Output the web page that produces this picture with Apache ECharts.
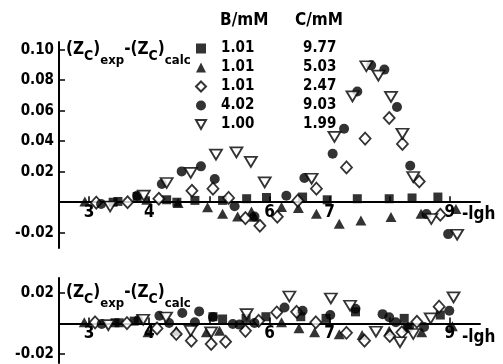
<!DOCTYPE html>
<html>
<head>
<meta charset="utf-8">
<script src="https://cdn.jsdelivr.net/npm/echarts@6/dist/echarts.min.js"></script>
<style>
  html, body { margin: 0; padding: 0; background: #fff; }
  #chart { width: 503px; height: 364px; }
</style>
</head>
<body>
<div id="chart"></div>
<script>
// upper panel: deviations (Zc)exp - (Zc)calc against -lgh
var topSquare = [[3.40,0.0000],[3.48,0.0005],[3.80,0.0038],[4.29,0.0016],[4.46,0.0000],[4.76,0.0012],[5.22,0.0012],[5.62,0.0023],[5.95,0.0031],[6.55,0.0034],[6.96,0.0016],[7.46,0.0023],[7.99,0.0023],[8.37,0.0028],[8.80,0.0034]];
var topTriangle = [[2.93,0.0005],[3.96,0.0016],[4.48,-0.0005],[4.97,-0.0033],[5.22,-0.0075],[5.47,-0.0093],[5.70,-0.0060],[5.75,-0.0095],[6.20,-0.0031],[6.48,-0.0038],[6.78,-0.0075],[7.16,-0.0141],[7.52,-0.0119],[8.02,-0.0097],[8.52,-0.0075],[9.10,-0.0045]];
var topDiamond = [[3.12,-0.0003],[3.64,0.0000],[4.16,0.0023],[4.71,0.0075],[5.06,0.0089],[5.32,0.0028],[5.60,-0.0104],[5.84,-0.0154],[6.13,-0.0095],[6.47,0.0010],[6.78,0.0089],[7.28,0.0228],[7.59,0.0417],[7.99,0.0552],[8.21,0.0382],[8.49,0.0136],[8.84,-0.0082]];
var topCircle = [[3.20,-0.0012],[3.80,0.0043],[4.21,0.0119],[4.54,0.0202],[4.86,0.0235],[5.09,0.0152],[5.42,-0.0026],[5.75,-0.0093],[6.28,0.0043],[6.58,0.0159],[7.05,0.0318],[7.24,0.0482],[7.46,0.0726],[7.69,0.0897],[7.91,0.0869],[8.12,0.0624],[8.34,0.0239],[8.61,-0.0077],[8.97,-0.0209]];
var topTriDown = [[3.35,-0.0028],[3.91,0.0043],[4.29,0.0126],[4.69,0.0192],[5.11,0.0312],[5.45,0.0327],[5.69,0.0264],[5.92,0.0130],[6.70,0.0154],[7.08,0.0428],[7.38,0.0694],[7.61,0.0891],[7.81,0.0830],[8.02,0.0690],[8.21,0.0449],[8.39,0.0165],[8.69,-0.0110],[9.12,-0.0213]];

// lower panel: deviations after refinement
var bottomSquare = [[3.43,0.0005],[3.50,0.0005],[3.75,0.0016],[5.06,0.0045],[5.22,0.0030],[5.61,0.0034],[5.94,0.0045],[6.52,0.0045],[6.94,0.0034],[7.43,0.0077],[8.24,0.0034],[8.29,-0.0031],[8.84,0.0056]];
var bottomTriangle = [[2.92,0.0008],[3.98,-0.0058],[4.45,-0.0047],[4.95,-0.0058],[5.17,-0.0047],[6.20,0.0008],[6.49,-0.0031],[6.75,-0.0058],[7.16,-0.0070],[7.54,-0.0075],[7.99,-0.0047],[8.53,-0.0058],[9.04,-0.0018]];
var bottomDiamond = [[3.10,0.0008],[3.63,0.0003],[4.13,-0.0032],[4.45,-0.0069],[4.70,-0.0113],[5.03,-0.0135],[5.27,-0.0120],[5.60,-0.0048],[5.82,0.0018],[6.12,0.0073],[6.45,0.0077],[6.77,0.0008],[7.28,-0.0061],[7.58,-0.0113],[8.00,-0.0082],[8.20,-0.0058],[8.45,0.0012],[8.82,0.0111]];
var bottomCircle = [[3.21,-0.0003],[3.82,0.0023],[4.17,0.0051],[4.33,0.0003],[4.55,0.0069],[4.76,0.0008],[4.83,0.0080],[5.06,0.0043],[5.39,-0.0003],[5.50,-0.0007],[5.75,0.0003],[6.25,0.0106],[6.55,0.0084],[7.01,0.0056],[7.43,0.0097],[7.88,0.0062],[7.99,0.0041],[8.10,0.0008],[8.32,-0.0025],[8.57,-0.0023],[8.99,0.0084]];
var bottomTriDown = [[3.32,-0.0010],[3.90,0.0025],[4.28,0.0040],[4.69,-0.0048],[5.03,-0.0058],[5.62,0.0062],[6.33,0.0178],[7.02,0.0165],[7.34,0.0117],[7.77,-0.0054],[8.17,-0.0123],[8.39,-0.0069],[8.68,0.0034],[9.06,0.0172]];

// legend columns
var concB = ['1.01', '1.01', '1.01', '4.02', '1.00'];
var concC = ['9.77', '5.03', '2.47', '9.03', '1.99'];

// ticks and labels
var xTicks = [3, 4, 5, 6, 7, 8, 9];
var xLabels = [3, 4, 6, 7, 9];
var topYTicks = [-0.02, 0.02, 0.04, 0.06, 0.08, 0.10];
var bottomYTicks = [-0.02, 0.02];

var FONT = '"DejaVu Sans Condensed", "DejaVu Sans", sans-serif';

var marks = [
    { symbol: 'rect', size: [9, 9], filled: true },
    { symbol: 'triangle', size: [11, 10], filled: true },
    { symbol: 'diamond', size: [11, 12], filled: false },
    { symbol: 'circle', size: 10, filled: true },
    { symbol: 'path://M0,0L10,0L5,9Z', size: [12, 10], filled: false }
];

var topData = [topSquare, topTriangle, topDiamond, topCircle, topTriDown];
var bottomData = [bottomSquare, bottomTriangle, bottomDiamond, bottomCircle, bottomTriDown];

var names = concB.map(function (b, i) { return b + '|' + concC[i]; });

function makeSeries(panel, dataList) {
    return dataList.map(function (d, i) {
        var m = marks[i];
        return {
            type: 'scatter',
            name: names[i],
            xAxisIndex: panel,
            yAxisIndex: panel,
            data: d,
            symbol: m.symbol,
            symbolSize: m.size,
            itemStyle: m.filled
                ? { color: '#000' }
                : { color: '#fff', borderColor: '#000', borderWidth: 1.8 },
            emphasis: { disabled: true }
        };
    });
}

// labels sit just under the zero line, so pull them up from the grid bottom
function xAxisOf(grid, labelMargin) {
    return {
        type: 'value',
        gridIndex: grid,
        min: 2.5,
        max: 9.5,
        axisLine: { onZero: true, lineStyle: { color: '#000', width: 2 } },
        axisTick: { show: true, inside: true, length: 6, customValues: xTicks, lineStyle: { color: '#000', width: 1.5 } },
        axisLabel: { customValues: xLabels, color: '#000', fontFamily: FONT, fontWeight: 'bold', fontSize: 17, margin: labelMargin },
        splitLine: { show: false }
    };
}

function yAxisOf(grid, min, max, ticks) {
    return {
        type: 'value',
        gridIndex: grid,
        min: min,
        max: max,
        axisLine: { show: true, onZero: false, lineStyle: { color: '#000', width: 2 } },
        axisTick: { show: true, inside: true, length: 6, customValues: ticks, lineStyle: { color: '#000', width: 1.5 } },
        axisLabel: {
            customValues: ticks, color: '#000', fontFamily: FONT, fontWeight: 'bold', fontSize: 15, margin: 5,
            formatter: function (v) { return v.toFixed(2); }
        },
        splitLine: { show: false }
    };
}

function title(x, y) {
    return {
        type: 'text',
        left: x,
        top: y,
        style: {
            text: '{m|(Z}{c|C}{m|)}{e|exp}{m|-(Z}{c|C}{m|)}{e|calc}',
            fill: '#000',
            rich: {
                m: { fontFamily: FONT, fontWeight: 'bold', fontSize: 17, lineHeight: 17, verticalAlign: 'top' },
                c: { fontFamily: FONT, fontWeight: 'bold', fontSize: 14, lineHeight: 14, verticalAlign: 'top', padding: [8, 0, 0, 0] },
                e: { fontFamily: FONT, fontWeight: 'bold', fontSize: 13, lineHeight: 13, verticalAlign: 'top', padding: [13, 0, 0, 0] }
            }
        }
    };
}

function plain(text, x, y, size) {
    return {
        type: 'text',
        left: x,
        top: y,
        style: { text: text, fill: '#000', font: 'bold ' + size + 'px ' + FONT }
    };
}

var chart = echarts.init(document.getElementById('chart'), null, { renderer: 'canvas' });

chart.setOption({
    backgroundColor: '#fff',
    animation: false,
    grid: [
        { left: 59, top: 42, width: 421, height: 206, outerBoundsMode: 'none', containLabel: false },
        { left: 59, top: 278, width: 421, height: 85, outerBoundsMode: 'none', containLabel: false }
    ],
    xAxis: [xAxisOf(0, -44), xAxisOf(1, -38)],
    yAxis: [yAxisOf(0, -0.03, 0.105, topYTicks), yAxisOf(1, -0.026, 0.03, bottomYTicks)],
    legend: {
        data: names,
        orient: 'vertical',
        left: 195,
        top: 41,
        itemWidth: 10,
        itemHeight: 10,
        itemGap: 4,
        padding: 0,
        selectedMode: false,
        formatter: function (n) {
            var p = n.split('|');
            return '{b|' + p[0] + '}{c|' + p[1] + '}';
        },
        textStyle: {
            color: '#000',
            lineHeight: 14,
            rich: {
                b: { fontFamily: FONT, fontWeight: 'bold', fontSize: 15, lineHeight: 14, width: 82, padding: [0, 0, 0, 10] },
                c: { fontFamily: FONT, fontWeight: 'bold', fontSize: 15, lineHeight: 14 }
            }
        }
    },
    graphic: [
        plain('B/mM', 220, 12, 17),
        plain('C/mM', 295, 12, 17),
        title(66, 41),
        title(66, 284),
        plain('-lgh', 462, 206, 17),
        plain('-lgh', 462, 329, 17)
    ],
    series: makeSeries(0, topData).concat(makeSeries(1, bottomData))
});
</script>
</body>
</html>
